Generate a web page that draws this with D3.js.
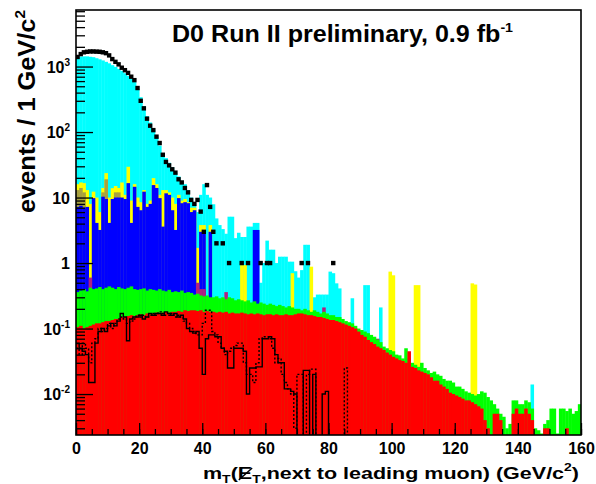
<!DOCTYPE html>
<html><head><meta charset="utf-8">
<script src="https://cdn.jsdelivr.net/npm/d3@7"></script>
<style>
body{margin:0;background:#fff}
svg{display:block}
text{font-family:"Liberation Sans",Arial,Helvetica,sans-serif;font-weight:bold;fill:#000}
</style>
</head><body>
<svg id="chart" width="596" height="484"></svg>
<script>
// ---------------- data (events / 1 GeV bin, bins 0..159 GeV) ----------------
// cumulative stack heights
const stackRed=[0.105,0.11,0.1,0.105,0.11,0.115,0.12,0.12,0.125,0.13,
0.13,0.135,0.14,0.14,0.15,0.15,0.155,0.16,0.155,0.16,
0.165,0.16,0.17,0.165,0.17,0.175,0.17,0.175,0.18,0.175,
0.18,0.18,0.185,0.18,0.19,0.185,0.19,0.19,0.185,0.19,
0.18,0.185,0.18,0.18,0.175,0.18,0.175,0.18,0.17,0.175,
0.17,0.17,0.175,0.17,0.165,0.17,0.165,0.17,0.165,0.16,
0.165,0.165,0.16,0.165,0.16,0.16,0.165,0.16,0.16,0.165,
0.17,0.17,0.165,0.16,0.16,0.155,0.15,0.15,0.145,0.14,
0.135,0.135,0.13,0.125,0.12,0.115,0.11,0.105,0.1,0.09,
0.08,0.075,0.067,0.062,0.058,0.053,0.05,0.047,0.043,0.04,
0.037,0.035,0.033,0.032,0.03,0.045,0.026,0.025,0.023,0.022,
0.021,0.02,0.018,0.016,0.016,0.014,0.013,0.012,0.0105,0.01,
0.0095,0.009,0.0085,0.008,0.008,0.0075,0.007,0.0065,0.006,0.004,
0.003,0,0.005,0.005,0.004,0,0,0,0.005,0.006,
0.005,0.005,0.006,0.005,0.004,0,0,0,0.003,0.003,
0,0,0,0,0,0.003,0,0,0,0];
const stackGreen=[0.36,0.38,0.4,0.37,0.42,0.4,0.41,0.43,0.4,0.42,
0.44,0.42,0.4,0.43,0.41,0.4,0.42,0.44,0.4,0.39,
0.4,0.41,0.38,0.4,0.39,0.38,0.4,0.38,0.37,0.39,
0.36,0.37,0.36,0.38,0.35,0.36,0.35,0.33,0.34,0.32,
0.31,0.32,0.3,0.3,0.31,0.29,0.3,0.28,0.3,0.29,
0.27,0.28,0.27,0.26,0.27,0.25,0.26,0.24,0.25,0.24,
0.23,0.24,0.23,0.22,0.23,0.22,0.21,0.22,0.21,0.2,
0.2,0.19,0.2,0.19,0.18,0.19,0.18,0.17,0.18,0.17,
0.16,0.16,0.15,0.15,0.14,0.13,0.125,0.12,0.11,0.1,
0.095,0.09,0.085,0.08,0.075,0.068,0.062,0.053,0.05,0.047,
0.045,0.04,0.039,0.035,0.05,0.035,0.03,0.028,0.026,0.03,
0.025,0.023,0.021,0.022,0.02,0.019,0.017,0.016,0.016,0.015,
0.013,0.013,0.012,0.011,0.0105,0.01,0.0095,0.01,0.011,0.0105,
0.009,0.008,0.007,0.006,0.005,0.0045,0.003,0.0035,0.008,0.008,
0.007,0.007,0.008,0.0075,0.006,0.003,0.0028,0.0025,0.0035,0.004,
0.006,0.006,0.0025,0.006,0.006,0.0055,0.006,0.005,0.0055,0.007];
const stackMagenta=[[4,0.6],[38,0.5],[39,0.4],[40,0.4],[47,0.36],[78,0.21],[95,0.07]]; // [bin, value]
const stackBlue=[7.2,7.5,7.0,7.2,0,9.8,4.1,3.2,10.3,9.5,
4.1,9.5,10,10,10,9.5,16.6,4.1,14.6,7.2,
6.4,12.3,7.2,8,15.5,14,9.8,3.6,11.6,11,
6.4,3.2,9.8,8.2,8.5,8.2,6,6.4,0,3.0,
3.0,0,3.0,0,0,0,0,0,0,0,
0,0,0,0,0,0,3.2,3.2,0,0,
0,0,0,0,0,0,0,0,0,0,
0,0,0,0,0,0,0,0,0,0,
0,0,0,0,0,0,0,0,0,0,
0,0,0,0,0,0,0,0,0,0,
0,0,0,0,0,0,0,0,0,0,
0,0,0,0,0,0,0,0,0,0,
0,0,0,0,0,0,0,0,0,0,
0,0,0,0,0,0,0,0,0,0,
0,0,0,0,0,0,0,0,0,0,
0,0,0,0,0,0,0,0,0,0];
const stackOlive=[[0,13],[1,14],[2,12],[8,12],[9,19],[12,12],[13,12]]; // [bin, value]
const stackYellow=[16,17,16.6,13,8,12.3,10,6,14,23.6,
10,13.9,15,14,17,11,29.5,9,16,10,
8.5,13,8,9,19.8,16,11,13,13,12,
10,8,11,9,9.5,8.5,7,7,1.7,3.8,
3.8,0,3.8,0,0,0,0,0,0,0,
0,0,0.93,0.93,0,0,0,0,0,0,
0,0,0,0,0,0,0,0,0.7,0,
0,0,0,0,0.88,0,0,0,0,0,
0,0,0,0,0,0,0,0,0,0,
0,0,0,0,0,0,0,0,0,0.74,
0.65,0,0,0,0,0,0,0.46,0.46,0,
0,0,0,0,0,0,0,0,0,0,
0,0,0,0,0,0.49,0.47,0,0,0,
0,0,0,0,0,0,0,0,0,0,
0,0,0,0,0,0,0,0,0,0,
0,0,0,0,0,0,0,0,0,0];
const stackCyan=[1400,1420,1430,1430,1410,1390,1340,1290,1240,1180,
1120,1050,990,920,860,790,720,650,580,450,
340,250,175,140,110,85,62,48,40,34,
29,24,21,18,16,13,10,8.2,6,11,
16,11,10,7.9,4.8,3.8,3.3,2.8,5.1,5.1,
2.4,2.9,2.5,2.5,3.6,3.6,4.1,4.1,0.5,1.0,
2.2,1.6,1.6,1.0,1.25,1.25,1.25,1.05,1.05,0.75,
0.6,0.78,1.9,1.9,0,0.3,0.33,0.33,0.33,0.33,
0.74,0.7,0.49,0.41,0,0,0,0.29,0,0,
0,0.46,0.46,0,0,0,0.21,0,0,0,
0,0,0,0,0,0,0,0,0,0,
0,0,0,0,0,0,0,0,0,0,
0,0,0,0,0,0,0,0,0,0,
0,0,0,0,0,0,0,0,0,0,
0,0,0,0,0.014,0,0,0,0,0,
0,0,0,0,0,0,0,0,0,0];
const dataCounts=[1400,1550,1650,1680,1700,1700,1690,1680,1650,1600,
1480,1300,1180,1080,960,880,800,700,620,470,
300,230,160,125,107,85,68,45,35,31,
27,24,19,17,14,12,9.2,8,9.2,6.1,
3,15.5,7.2,3,2,0,2,0,1,0,
0,0,1,0,1,0,0,0,1,0,
1,1,0,0,0,0,0,0,0,0,
0,1,0,1,0,0,0,0,0,0,
0,1,0,0,0,0,0,0,0,0];
const signalSolid=[0.06,0.05,0.045,0.04,0.015,0.015,0.06,0.09,0.1,0.09,
0.11,0.12,0.11,0.13,0.17,0.15,0.065,0.14,0.15,0.15,
0.16,0.14,0.15,0.17,0.16,0.17,0.17,0.16,0.18,0.17,
0.16,0.17,0.15,0.16,0.14,0.1,0.09,0.085,0.09,0.05,
0.02,0.07,0.08,0.08,0.075,0.075,0.05,0.045,0.025,0.025,
0.05,0.05,0.05,0.045,0.01,0.025,0.025,0.026,0.026,0.07,
0.07,0.075,0.07,0.04,0.03,0.03,0.012,0.012,0.011,0.01,
0,0,0.023,0.023,0,0.02,0,0,0.01,0.011];
const signalDashed=[0.05,0.04,0.06,0.05,0.03,0.06,0.07,0.1,0.09,0.1,
0.12,0.1,0.12,0.14,0.15,0.14,0.12,0.13,0.14,0.16,
0.15,0.16,0.15,0.16,0.17,0.16,0.18,0.17,0.16,0.16,
0.17,0.15,0.16,0.15,0.13,0.12,0.1,0.09,0.08,0.08,
0.12,0.19,0.19,0.09,0.08,0.06,0.05,0.04,0.045,0.05,
0.055,0.06,0.06,0.03,0.02,0.02,0.015,0.03,0.07,0.075,
0.075,0.07,0.05,0.03,0.035,0.02,0.015,0.012,0.01,0.003,
0.02,0.02,0,0.02,0.024,0.024,0,0,0,0,
0,0,0,0,0,0.025];
const xTicksMajor=[0,20,40,60,80,100,120,140,160];
const yTicksMajor=[0.01,0.1,1,10,100,1000];
const yTickLabels=[["10","-2"],["10","-1"],["1",""],["10",""],["10","2"],["10","3"]];
const titleMain="D0 Run II preliminary, 0.9 fb", titleSup="-1";
const nBins=160, xMax=160, yDomain=[0.00237,7300];

// ---------------- layout ----------------
const L=76,R=581,T=10,B=435;
const svg=d3.select("#chart");
const x=d3.scaleLinear().domain([0,xMax]).range([L,R]);
const y=d3.scaleLog().domain(yDomain).range([B,T]);
const yMin=yDomain[0], yMax=yDomain[1];
const val=(a,i)=> (a[i]===undefined?0:a[i]);
const fromPairs=p=>{const a=new Array(nBins).fill(0);p.forEach(([b,v])=>a[b]=v);return a;};

svg.append("clipPath").attr("id","plot").append("rect").attr("x",L).attr("y",T).attr("width",R-L).attr("height",B-T);
const g=svg.append("g").attr("clip-path","url(#plot)");

const layers=[
 {vals:stackCyan,color:"#00ffff"},
 {vals:stackYellow,color:"#ffff00"},
 {vals:fromPairs(stackOlive),color:"#a8a040"},
 {vals:stackBlue,color:"#0000ff"},
 {vals:fromPairs(stackMagenta),color:"#b02080"},
 {vals:stackGreen,color:"#00ff00"},
 {vals:stackRed,color:"#ff0000"}
];
layers.forEach(Ly=>{
  const bins=d3.range(nBins).filter(i=>val(Ly.vals,i)>=yMin);
  g.append("g").selectAll("rect").data(bins).join("rect")
   .attr("x",i=>x(i)).attr("width",i=>x(i+1)-x(i)+0.4)
   .attr("y",i=>y(Math.min(Ly.vals[i],yMax)))
   .attr("height",i=>B-y(Math.min(Ly.vals[i],yMax)))
   .attr("fill",Ly.color);
});

// signal step histograms
const step=d3.line().curve(d3.curveStepAfter)
  .x(d=>x(d[0])).y(d=>d[1]>0?y(d[1]):B+4);
function stepPts(a){return d3.range(nBins+1).map(i=>[i,val(a,Math.min(i,nBins-1))]);}
g.append("path").attr("d",step(stepPts(signalSolid))).attr("fill","none").attr("stroke","#000").attr("stroke-width",1.4);
g.append("path").attr("d",step(stepPts(signalDashed))).attr("fill","none").attr("stroke","#000").attr("stroke-width",1.4).attr("stroke-dasharray","2,2");

// data points
const dbins=d3.range(nBins).filter(i=>val(dataCounts,i)>0);
g.append("g").selectAll("rect").data(dbins).join("rect")
 .attr("x",i=>x(i+0.5)-2.2).attr("y",i=>y(dataCounts[i])-2.2)
 .attr("width",4.4).attr("height",4.4).attr("fill","#000");

// axes (ROOT style ticks inside the frame)
const minorY=[];
for(let e=-3;e<=3;e++)for(let m=2;m<=9;m++){const v=m*Math.pow(10,e);if(v>=yMin&&v<=yMax)minorY.push(v);}
svg.append("g").attr("transform",`translate(${L},0)`)
 .call(d3.axisRight(y).tickValues(minorY).tickSize(9).tickFormat(""))
 .call(s=>{s.select(".domain").remove();s.selectAll("line").attr("stroke","#000").attr("stroke-width",1.3);});
svg.append("g").attr("transform",`translate(${L},0)`)
 .call(d3.axisRight(y).tickValues(yTicksMajor).tickSize(17).tickFormat(""))
 .call(s=>{s.select(".domain").remove();s.selectAll("line").attr("stroke","#000").attr("stroke-width",1.3);});
svg.append("g").attr("transform",`translate(0,${B})`)
 .call(d3.axisBottom(x).tickValues(d3.range(0,xMax+0.1,5)).tickSizeInner(-6).tickSizeOuter(0).tickFormat(""))
 .call(s=>{s.select(".domain").remove();s.selectAll("line").attr("stroke","#000").attr("stroke-width",1.3);});
svg.append("g").attr("transform",`translate(0,${B})`)
 .call(d3.axisBottom(x).tickValues(xTicksMajor).tickSizeInner(-12).tickSizeOuter(0).tickPadding(7.6).tickFormat(d3.format("d")))
 .call(s=>{s.select(".domain").remove();s.selectAll("line").attr("stroke","#000").attr("stroke-width",1.3);
   s.selectAll("text").attr("font-size",16).attr("fill","#000").style("font-family",'"Liberation Sans",Arial,sans-serif').style("font-weight","bold");});

// y tick labels with superscripts
yTicksMajor.forEach((v,k)=>{
  const t=svg.append("text").attr("x",70).attr("y",y(v)+6).attr("text-anchor","end").attr("font-size",16);
  t.append("tspan").text(yTickLabels[k][0]);
  if(yTickLabels[k][1]) t.append("tspan").attr("font-size",10).attr("dy",-7).text(yTickLabels[k][1]);
});

// frame
svg.append("rect").attr("x",L).attr("y",T).attr("width",R-L).attr("height",B-T)
 .attr("fill","none").attr("stroke","#000").attr("stroke-width",1.6);

// title
const tt=svg.append("text").attr("x",172).attr("y",41.5).attr("font-size",23);
tt.append("tspan").text(titleMain);
tt.append("tspan").attr("font-size",13).attr("dy",-10).text(titleSup);
tt.attr("textLength",341).attr("lengthAdjust","spacingAndGlyphs");

// y title
const yt=svg.append("text").attr("transform","translate(35,213) rotate(-90)").attr("font-size",23);
yt.append("tspan").text("events / 1 GeV/c");
yt.append("tspan").attr("font-size",14).attr("dy",-10).text("2");
yt.attr("textLength",203).attr("lengthAdjust","spacingAndGlyphs");

// x title
const xt=svg.append("text").attr("x",203).attr("y",479).attr("font-size",17);
xt.append("tspan").text("m");
xt.append("tspan").attr("font-size",11).attr("dy",4).text("T");
xt.append("tspan").attr("dy",-4).text("(E");
xt.append("tspan").attr("font-size",11).attr("dy",4).text("T");
xt.append("tspan").attr("dy",-4).text(",next to leading muon) (GeV/c");
xt.append("tspan").attr("font-size",11).attr("dy",-8).text("2");
xt.append("tspan").attr("dy",8).text(")");
xt.attr("textLength",376).attr("lengthAdjust","spacingAndGlyphs");
// slash through the E (missing transverse energy)
try{
  const ext=xt.node().getExtentOfChar(3);
  svg.append("line").attr("x1",ext.x+1).attr("y1",ext.y+ext.height-3)
   .attr("x2",ext.x+ext.width).attr("y2",ext.y+4).attr("stroke","#000").attr("stroke-width",1.5);
}catch(e){}
</script>
</body></html>
